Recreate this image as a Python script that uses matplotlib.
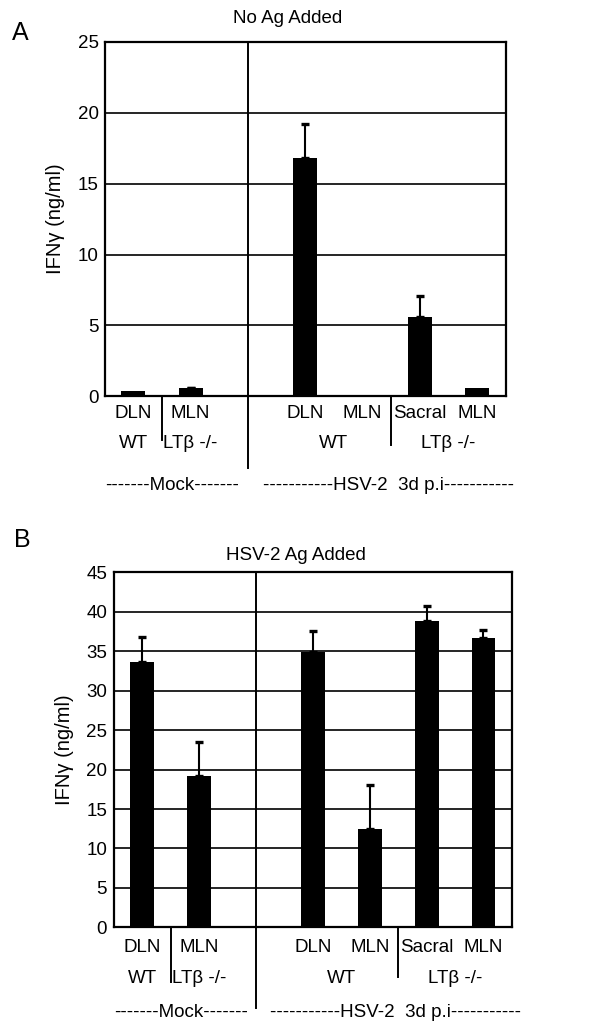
import numpy as np
import matplotlib
matplotlib.use("Agg")
import matplotlib.pyplot as plt

plt.rcParams['font.family'] = ['Liberation Sans', 'DejaVu Sans']

# データ
categories = ['DLN', 'MLN', 'DLN', 'MLN', 'Sacral', 'MLN']
n_mock = 2  # Mock側のカテゴリ数 (残りはHSV-2)
strain_labels = ['WT', 'LTβ -/-', 'WT', 'LTβ -/-']
group_labels = ['-------Mock-------', '-----------HSV-2  3d p.i-----------']

ifn_no_ag = [0.35, 0.55, 16.8, 0.0, 5.6, 0.6]
err_no_ag = [0.0, 0.05, 2.4, 0.0, 1.5, 0.0]
ifn_hsv_ag = [33.7, 19.2, 34.9, 12.5, 38.9, 36.7]
err_hsv_ag = [3.1, 4.3, 2.7, 5.6, 1.8, 1.0]

# 位置 (Mock と HSV-2 の間に空きを1つ)
pos = np.r_[np.arange(n_mock), np.arange(len(categories) - n_mock) + n_mock + 1]
div_x = n_mock  # 大きい区切り線
small_div = [0.5, n_mock + 1 + 1.5]  # WT / LTb の区切り
strain_x = [0, 1, n_mock + 1.5, n_mock + 3.5]


def draw_panel(ax, vals, errs, ymax, title, title_y, rows_y, small_end, main_end, pad):
    vals = np.asarray(vals)
    errs = np.asarray(errs)
    ax.bar(pos, vals, width=0.42, color='black', zorder=3)
    m = errs > 0  # 誤差0のものは描かない
    ax.errorbar(pos[m], vals[m], yerr=[np.zeros(m.sum()), errs[m]], fmt='none',
                ecolor='black', elinewidth=1.5, capsize=3.2, capthick=2.4, zorder=3)
    ax.set_xlim(-0.5, pos[-1] + 0.5)
    ax.set_ylim(0, ymax)
    ax.set_yticks(np.arange(0, ymax + 1, 5))
    ax.yaxis.grid(True, color='black', linewidth=1.2, zorder=1)
    ax.set_xticks([])
    ax.tick_params(axis='y', length=0, pad=pad, labelsize=13.5)
    for s in ax.spines.values():
        s.set_linewidth(1.6)
    ax.set_ylabel('IFNγ (ng/ml)', fontsize=14.5, labelpad=9)

    tr = ax.get_xaxis_transform()
    ax.plot([div_x, div_x], [1, main_end], color='black', lw=1.4, transform=tr, clip_on=False)
    for x, e in zip(small_div, small_end):
        ax.plot([x, x], [0, e], color='black', lw=1.4, transform=tr, clip_on=False)
    for x, c in zip(pos, categories):
        ax.text(x, rows_y[0], c, transform=tr, ha='center', va='center', fontsize=13.5)
    for x, c in zip(strain_x, strain_labels):
        ax.text(x, rows_y[1], c, transform=tr, ha='center', va='center', fontsize=13.5)
    ax.text(0.68, rows_y[2], group_labels[0], transform=tr, ha='center', va='center', fontsize=13.5)
    ax.text(4.45, rows_y[2], group_labels[1], transform=tr, ha='center', va='center', fontsize=13.5)
    ax.text(pos[2] - 0.3, title_y, title, transform=tr, ha='center', va='center', fontsize=13.5)


fig = plt.figure(figsize=(6.13, 10.24), dpi=100)

ax1 = fig.add_axes([0.1705, 0.613, 0.655, 0.346])
draw_panel(ax1, ifn_no_ag, err_no_ag, 25, 'No Ag Added', 1.065,
           [-0.048, -0.133, -0.251], [-0.124, -0.138], -0.203, 4)

ax2 = fig.add_axes([0.186, 0.0944, 0.649, 0.3466])
draw_panel(ax2, ifn_hsv_ag, err_hsv_ag, 45, 'HSV-2 Ag Added', 1.049,
           [-0.058, -0.143, -0.241], [-0.154, -0.14], -0.227, 5)

fig.text(20 / 613, 1 - 33 / 1024, 'A', fontsize=18, ha='center', va='center')
fig.text(22 / 613, 1 - 540 / 1024, 'B', fontsize=18, ha='center', va='center')

fig.savefig('out.png', dpi=100)
